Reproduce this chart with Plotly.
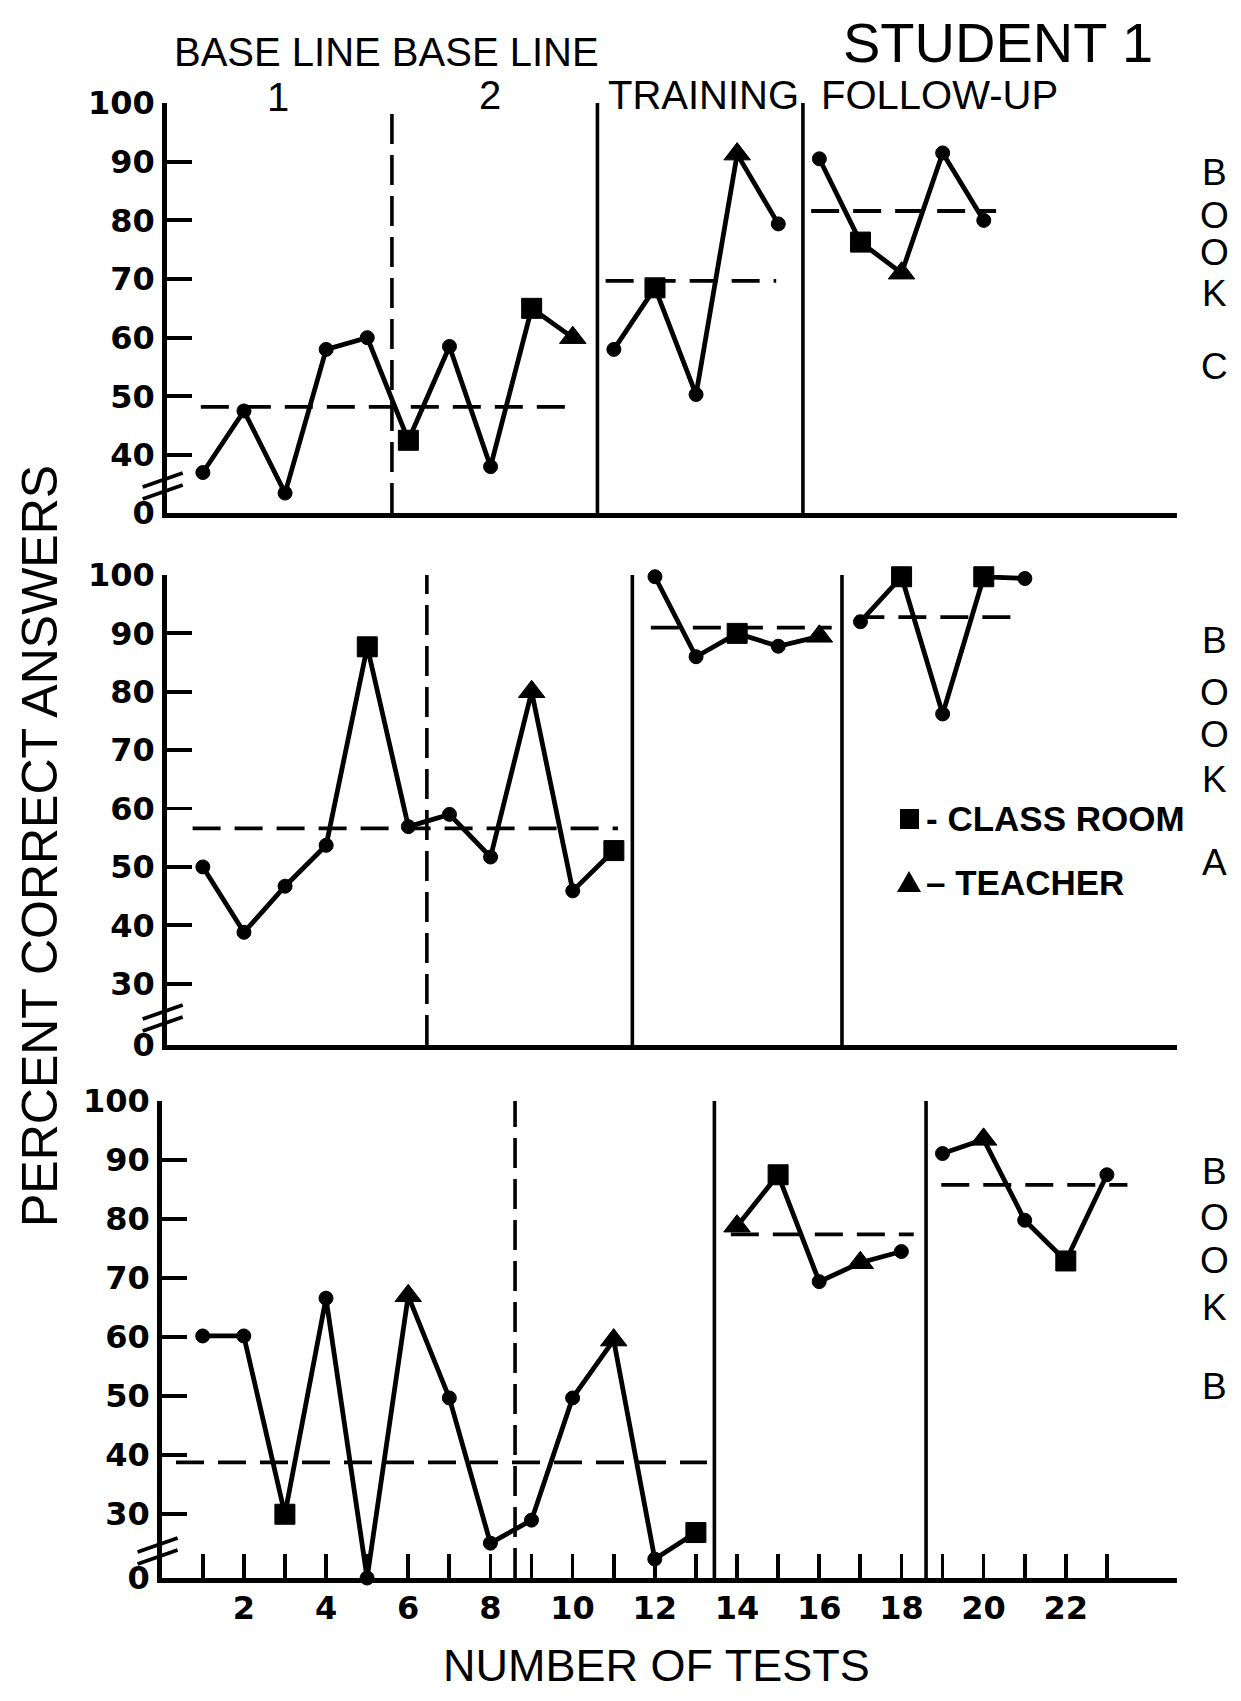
import plotly.graph_objects as go

W, H = 1241, 1701

# ---------------- DATA ----------------
# Book C (top panel)
book_c_tests = list(range(1, 21))
book_c_percent = [37, 47.5, 33.5, 58, 60, 42.5, 58.5, 38, 65, 60,
                  58, 68.5, 50.3, 91.3, 79.4,
                  90.5, 76.3, 71, 91.5, 80]
book_c_setting = ["o", "o", "o", "o", "o", "s", "o", "o", "s", "t",
                  "o", "s", "o", "t", "o",
                  "o", "s", "t", "o", "o"]
book_c_phase = ["B"] * 10 + ["T"] * 5 + ["F"] * 5
book_c_means = [48.2, 69.7, 81.6]
book_c_changes = [5.6, 10.6, 15.6]

# Book A (middle panel)
book_a_tests = list(range(1, 22))
book_a_percent = [50, 38.8, 46.7, 53.7, 87.7, 56.9, 59, 51.7, 80, 45.9, 52.8,
                  99.7, 86, 90, 87.8, 89.5,
                  92, 99.7, 76.2, 99.7, 99.4]
book_a_setting = ["o", "o", "o", "o", "s", "o", "o", "o", "t", "o", "s",
                  "o", "o", "s", "o", "t",
                  "o", "s", "o", "s", "o"]
book_a_phase = ["B"] * 11 + ["T"] * 5 + ["F"] * 5
book_a_means = [56.6, 91.0, 92.8]
book_a_changes = [6.45, 11.45, 16.55]

# Book B (bottom panel)
book_b_tests = list(range(1, 24))
book_b_percent = [60.2, 60.2, 30, 66.6, 0, 67, 49.7, 25.1, 29, 49.7, 59.5, 22.4, 26.9,
                  78.8, 87.5, 69.4, 72.6, 74.5,
                  91.1, 93.5, 79.8, 72.9, 87.5]
book_b_setting = ["o", "o", "s", "o", "o", "t", "o", "o", "o", "o", "t", "o", "s",
                  "t", "s", "o", "t", "o",
                  "o", "t", "o", "s", "o"]
book_b_phase = ["B"] * 13 + ["T"] * 5 + ["F"] * 5
book_b_means = [38.8, 77.4, 85.8]
book_b_changes = [8.6, 13.45, 18.6]

y_ticks_c = [40, 50, 60, 70, 80, 90, 100]
y_ticks_ab = [30, 40, 50, 60, 70, 80, 90, 100]
x_ticks = list(range(1, 24))
x_tick_labels = [str(t) if t % 2 == 0 else "" for t in x_ticks]

phase_titles = ["BASE LINE BASE LINE", "1", "2", "TRAINING", "FOLLOW-UP"]
legend_labels = ["- CLASS ROOM", "– TEACHER"]

# ---------------- LAYOUT HELPERS ----------------
def px(x):
    return x / W


def py(y):
    return 1 - y / H


SYM = {"o": ("circle", 14), "s": ("square", 20), "t": ("triangle-up", 23)}
TICKFONT = dict(family="DejaVu Sans", size=32, color="black", weight="bold")

panels = [
    dict(tests=book_c_tests, pct=book_c_percent, setting=book_c_setting, phase=book_c_phase,
         means=book_c_means, changes=book_c_changes, yticks=y_ticks_c, floor=30.1,
         top=103.1, bottom=513.0, left=166.7, xstart=0.12,
         spans=[(0.95, 10.05), (10.8, 14.95), (15.8, 20.3)],
         letters="BOOKC", letters_y=[172.5, 215, 253, 293, 367]),
    dict(tests=book_a_tests, pct=book_a_percent, setting=book_a_setting, phase=book_a_phase,
         means=book_a_means, changes=book_a_changes, yticks=y_ticks_ab, floor=19.5,
         top=575.0, bottom=1045.0, left=166.7, xstart=0.12,
         spans=[(0.75, 11.1), (11.9, 16.3), (16.9, 20.9)],
         letters="BOOKA", letters_y=[640, 692, 735, 779, 862]),
    dict(tests=book_b_tests, pct=book_b_percent, setting=book_b_setting, phase=book_b_phase,
         means=book_b_means, changes=book_b_changes, yticks=y_ticks_ab, floor=19.2,
         top=1101.0, bottom=1578.0, left=161.6, xstart=0.0,
         spans=[(0.35, 13.27), (13.85, 18.3), (18.97, 23.5)],
         letters="BOOKB", letters_y=[1171, 1217, 1260, 1307, 1386]),
]

X0_PIX, UNIT = 161.6, 41.1
XRIGHT_PIX = 1177.0

fig = go.Figure()
shapes = []
annotations = []
layout_axes = {}

for i, p in enumerate(panels, start=1):
    xa = "x" if i == 1 else f"x{i}"
    ya = "y" if i == 1 else f"y{i}"
    floor = p["floor"]
    # traces per connected segment (baseline phases joined)
    for seg in ["B", "T", "F"]:
        idx = [k for k, ph in enumerate(p["phase"]) if ph == seg]
        xs = [p["tests"][k] for k in idx]
        ys = [max(p["pct"][k], floor) for k in idx]
        syms = [SYM[p["setting"][k]][0] for k in idx]
        sizes = [SYM[p["setting"][k]][1] for k in idx]
        fig.add_trace(go.Scatter(
            x=xs, y=ys, mode="lines+markers", xaxis=xa, yaxis=ya,
            line=dict(color="black", width=4.8),
            marker=dict(symbol=syms, size=sizes, color="black", opacity=1,
                        line=dict(width=1, color="black")),
            cliponaxis=False, showlegend=False, hoverinfo="skip"))
    # phase-change lines
    for j, cx in enumerate(p["changes"]):
        shapes.append(dict(type="line", xref=xa, yref=ya, x0=cx, x1=cx, y0=floor, y1=100,
                           line=dict(color="black", width=3.6,
                                     dash="30px,11px" if j == 0 else "solid")))
    # mean lines
    for (s0, s1), m in zip(p["spans"], p["means"]):
        shapes.append(dict(type="line", xref=xa, yref=ya, x0=s0, x1=s1, y0=m, y1=m,
                           line=dict(color="black", width=3.8, dash="28px,14px")))
    # axes
    xaxis = dict(domain=[px(p["left"]), px(XRIGHT_PIX)],
                 range=[p["xstart"], p["xstart"] + (XRIGHT_PIX - p["left"]) / UNIT],
                 anchor=ya, showline=True, linewidth=4.5, linecolor="black",
                 showgrid=False, zeroline=False, fixedrange=True, automargin=False)
    if i == 3:
        xaxis.update(tickmode="array", tickvals=x_ticks, ticktext=x_tick_labels,
                     ticks="inside", ticklen=24, tickwidth=3.8, tickcolor="black",
                     tickfont=TICKFONT, ticklabelstandoff=-2)
    else:
        xaxis.update(showticklabels=False, ticks="")
    yaxis = dict(domain=[py(p["bottom"]), py(p["top"])], range=[floor, 100], anchor=xa,
                 showline=True, linewidth=4.5, linecolor="black", showgrid=False,
                 zeroline=False, ticks="inside", ticklen=25, tickwidth=3.8,
                 tickcolor="black", tickmode="array",
                 tickvals=[floor] + p["yticks"],
                 ticktext=["0"] + [str(v) for v in p["yticks"]],
                 tickfont=TICKFONT, ticklabelstandoff=1, fixedrange=True,
                 automargin=False)
    layout_axes["xaxis" if i == 1 else f"xaxis{i}"] = xaxis
    layout_axes["yaxis" if i == 1 else f"yaxis{i}"] = yaxis
    # axis-break marks
    ax_x, yb = p["left"], p["bottom"]
    for off in (20, 32):
        shapes.append(dict(type="line", xref="paper", yref="paper",
                           x0=px(ax_x - 24), y0=py(yb - off + 6),
                           x1=px(ax_x + 16), y1=py(yb - off - 8),
                           line=dict(color="black", width=3.8)))
    # BOOK letters
    for ch, ly in zip(p["letters"], p["letters_y"]):
        annotations.append(dict(text=ch, x=px(1214), y=py(ly), xref="paper", yref="paper",
                                showarrow=False, xanchor="center", yanchor="middle",
                                font=dict(family="Liberation Sans", size=37, color="black")))

# header texts
hdr = dict(family="Liberation Sans", size=40, color="black")
for txt, (hx, hy) in zip(phase_titles, [(386, 52), (278, 97), (490, 95), (703, 95), (939, 95)]):
    annotations.append(dict(text=txt, x=px(hx), y=py(hy), xref="paper", yref="paper",
                            showarrow=False, xanchor="center", yanchor="middle", font=hdr))
annotations.append(dict(text="STUDENT 1", x=px(998), y=py(42), xref="paper", yref="paper",
                        showarrow=False, xanchor="center", yanchor="middle",
                        font=dict(family="Liberation Sans", size=56, color="black")))
annotations.append(dict(text="PERCENT CORRECT ANSWERS", x=px(40), y=py(846), xref="paper",
                        yref="paper", showarrow=False, textangle=-90, xanchor="center",
                        yanchor="middle",
                        font=dict(family="Liberation Sans", size=50, color="black")))
annotations.append(dict(text="NUMBER OF TESTS", x=px(656), y=py(1665), xref="paper",
                        yref="paper", showarrow=False, xanchor="center", yanchor="middle",
                        font=dict(family="Liberation Sans", size=45, color="black")))

# legend
leg_font = dict(family="Liberation Sans", size=35, color="black", weight="bold")
shapes.append(dict(type="rect", xref="paper", yref="paper", x0=px(900), x1=px(919),
                   y0=py(829), y1=py(809), fillcolor="black", line=dict(width=0)))
tri = f"M {px(897)},{py(892)} L {px(921)},{py(892)} L {px(909)},{py(871)} Z"
shapes.append(dict(type="path", xref="paper", yref="paper", path=tri,
                   fillcolor="black", line=dict(width=0)))
annotations.append(dict(text=legend_labels[0], x=px(924), y=py(819), xref="paper",
                        yref="paper", showarrow=False, xanchor="left", yanchor="middle",
                        font=leg_font))
annotations.append(dict(text=legend_labels[1], x=px(924), y=py(882), xref="paper",
                        yref="paper", showarrow=False, xanchor="left", yanchor="middle",
                        font=leg_font))

fig.update_layout(template="none", width=W, height=H, margin=dict(l=0, r=0, t=0, b=0),
                  paper_bgcolor="white", plot_bgcolor="white", showlegend=False,
                  shapes=shapes, annotations=annotations, **layout_axes)

fig.write_html("out.html", config={"displayModeBar": False, "staticPlot": True},
               post_script="document.body.style.margin='0';")
